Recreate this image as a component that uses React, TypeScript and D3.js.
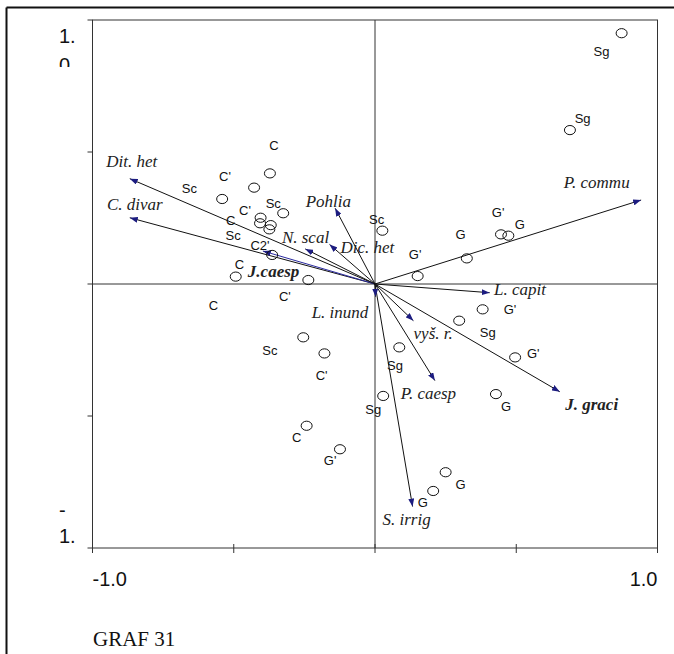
import React from "react";
import { scaleLinear } from "d3";

// site scores (circles) and their label positions
const siteX = [0.873, 0.69, -0.372, -0.428, -0.541, -0.325, -0.405, -0.407, -0.369, -0.374, -0.364, -0.493, -0.236, 0.325, 0.151, 0.026, 0.446, 0.472, 0.381, 0.298, 0.496, 0.428, -0.254, -0.179, 0.086, 0.029, -0.242, -0.124, 0.25, 0.206];
const siteY = [0.95, 0.583, 0.419, 0.365, 0.322, 0.268, 0.251, 0.23, 0.223, 0.207, 0.11, 0.028, 0.015, 0.097, 0.03, 0.202, 0.188, 0.183, -0.096, -0.139, -0.278, -0.417, -0.202, -0.263, -0.24, -0.424, -0.537, -0.626, -0.713, -0.784];

const labelText = ["Sg", "Sg", "C", "C'", "Sc", "Sc", "C'", "C", "Sc", "C2'", "C", "C'", "G", "G'", "Sc", "G'", "G", "G'", "Sg", "G'", "G", "Sc", "C'", "Sg", "Sg", "C", "G'", "G", "G", "C"];
const labelX = [0.802, 0.735, -0.358, -0.531, -0.657, -0.36, -0.46, -0.511, -0.502, -0.407, -0.48, -0.319, 0.303, 0.142, 0.006, 0.436, 0.513, 0.478, 0.399, 0.56, 0.464, -0.372, -0.189, 0.071, -0.006, -0.277, -0.159, 0.303, 0.169, -0.572];
const labelY = [0.88, 0.628, 0.523, 0.409, 0.363, 0.306, 0.28, 0.242, 0.182, 0.144, 0.072, -0.048, 0.188, 0.11, 0.246, 0.27, 0.227, -0.098, -0.183, -0.265, -0.465, -0.253, -0.345, -0.309, -0.477, -0.582, -0.667, -0.758, -0.828, -0.08];

// species arrows
const species = ["Dit. het", "C. divar", "J.caesp", "N. scal", "Dic. het", "Pohlia", "P. commu", "L. capit", "J. graci", "vyš. r.", "P. caesp", "S. irrig", "L. inund"];
const arrowX = [-0.868, -0.868, -0.397, -0.247, -0.161, -0.141, 0.942, 0.406, 0.654, 0.136, 0.212, 0.133, 0.002];
const arrowY = [0.399, 0.251, 0.125, 0.133, 0.15, 0.287, 0.318, -0.033, -0.408, -0.139, -0.366, -0.843, -0.048];
const spLabelX = [-0.861, -0.85, -0.359, -0.246, -0.027, -0.165, 0.785, 0.513, 0.767, 0.206, 0.189, 0.112, -0.124];
const spLabelY = [0.463, 0.303, 0.047, 0.175, 0.1375, 0.312, 0.384, -0.02, -0.456, -0.187, -0.414, -0.891, -0.109];
const boldSpecies = ["J.caesp", "J. graci"];

const xTicks = [-1, -0.5, 0, 0.5, 1];
const yTicks = [-1, -0.5, 0, 0.5, 1];

const W = 674;
const H = 654;

export default function App() {
  const x = scaleLinear().domain([-1, 1]).range([92.5, 657.5]);
  const y = scaleLinear().domain([-1, 1]).range([548, 20]);
  const sans = "'Liberation Sans', Arial, sans-serif";
  const serif = "'Liberation Serif', 'Times New Roman', serif";

  return (
    <svg width={W} height={H} style={{ position: "absolute", left: 0, top: 0, background: "#fff" }}>
      <defs>
        <marker id="head" viewBox="0 0 8 6" refX="8" refY="3" markerWidth="8" markerHeight="6" markerUnits="userSpaceOnUse" orient="auto">
          <path d="M0,0 L8,3 L0,6 z" fill="#1c1c80" />
        </marker>
        <clipPath id="ytop">
          <rect x={40} y={20} width={50} height={47} />
        </clipPath>
        <clipPath id="ybot">
          <rect x={40} y={495} width={50} height={54} />
        </clipPath>
      </defs>

      {/* outer frame */}
      <line x1={6.5} y1={7.5} x2={W} y2={7.5} stroke="#111" strokeWidth={2} />
      <line x1={6.5} y1={7.5} x2={6.5} y2={H} stroke="#111" strokeWidth={2} />

      {/* plot box */}
      <rect x={x(-1)} y={y(1)} width={x(1) - x(-1)} height={y(-1) - y(1)} fill="none" stroke="#333" strokeWidth={1} />
      <line x1={x(0)} x2={x(0)} y1={y(1)} y2={y(-1)} stroke="#333" />
      <line x1={x(-1)} x2={x(1)} y1={y(0)} y2={y(0)} stroke="#333" />

      {yTicks.map((t) => (
        <line key={"yt" + t} x1={x(-1) - 5} x2={x(-1)} y1={y(t)} y2={y(t)} stroke="#333" />
      ))}
      {xTicks.map((t) => (
        <line key={"xt" + t} x1={x(t)} x2={x(t)} y1={y(-1) - 4} y2={y(-1) + 5} stroke="#333" />
      ))}

      {/* y tick labels, wrapped and clipped like the original */}
      <g clipPath="url(#ytop)" fontFamily={sans} fontSize={20} fill="#111">
        <text x={59} y={43}>1.</text>
        <text x={59} y={72}>0</text>
      </g>
      <g clipPath="url(#ybot)" fontFamily={sans} fontSize={20} fill="#111">
        <text x={59} y={517}>-</text>
        <text x={59} y={543}>1.</text>
        <text x={59} y={570}>0</text>
      </g>

      <text x={x(-1)} y={586} fontFamily={sans} fontSize={20} fill="#111">-1.0</text>
      <text x={x(1)} y={586} fontFamily={sans} fontSize={20} fill="#111" textAnchor="end">1.0</text>

      {/* species arrows */}
      {species.map((s, i) => (
        <line
          key={"a" + s}
          x1={x(0)}
          y1={y(0)}
          x2={x(arrowX[i])}
          y2={y(arrowY[i])}
          stroke={s === "J.caesp" ? "#2a2aa0" : "#111"}
          strokeWidth={1}
          markerEnd="url(#head)"
        />
      ))}
      {species.map((s, i) => (
        <text
          key={"l" + s}
          x={x(spLabelX[i])}
          y={y(spLabelY[i])}
          textAnchor="middle"
          dominantBaseline="central"
          fontFamily={serif}
          fontStyle="italic"
          fontWeight={boldSpecies.includes(s) ? "bold" : "normal"}
          fontSize={17}
          fill="#222"
        >
          {s}
        </text>
      ))}

      {/* sites */}
      {siteX.map((v, i) => (
        <ellipse key={"c" + i} cx={x(v)} cy={y(siteY[i])} rx={5.5} ry={4.6} fill="none" stroke="#111" strokeWidth={1} />
      ))}
      {labelText.map((t, i) => (
        <text
          key={"t" + i}
          x={x(labelX[i])}
          y={y(labelY[i])}
          textAnchor="middle"
          dominantBaseline="central"
          fontFamily={sans}
          fontSize={13}
          fill="#111"
        >
          {t}
        </text>
      ))}

      <text x={93} y={646} fontFamily={serif} fontSize={21} fill="#111">GRAF 31</text>
    </svg>
  );
}
